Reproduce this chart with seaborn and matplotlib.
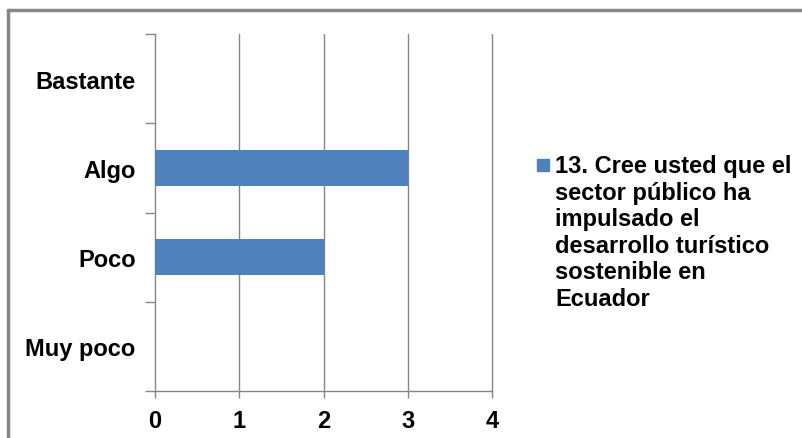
import matplotlib
import matplotlib.pyplot as plt
import seaborn as sns
import pandas as pd
from matplotlib.patches import Rectangle
from matplotlib.lines import Line2D

matplotlib.use('Agg')

# data
categories = ['Bastante', 'Algo', 'Poco', 'Muy poco']
values = [0, 3, 2, 0]
series_label = '13. Cree usted que el\nsector público ha\nimpulsado el\ndesarrollo turístico\nsostenible en\nEcuador'
x_ticks = [0, 1, 2, 3, 4]

bar_color = '#4F81BD'
grid_color = '#868686'

sns.set_style('white')
plt.rcParams['font.family'] = ['Liberation Sans', 'DejaVu Sans']
plt.rcParams['font.weight'] = 'bold'
plt.rcParams['text.color'] = 'black'
plt.rcParams['xtick.color'] = 'black'
plt.rcParams['ytick.color'] = 'black'

df = pd.DataFrame({'categoria': categories, 'valor': values})

fig = plt.figure(figsize=(8.03, 4.39), dpi=100)
ax = fig.add_axes([155 / 803, 1 - 392 / 439, (492 - 155) / 803, (392 - 35) / 439])

sns.barplot(data=df, x='valor', y='categoria', order=categories, orient='h',
            color=bar_color, saturation=1, width=0.4, linewidth=0, ax=ax, zorder=3)

ax.set_xlim(0, 4)
ax.set_ylim(3.5, -0.5)
ax.set_xticks(x_ticks)
ax.set_xlabel('')
ax.set_ylabel('')

# vertical gridlines (drawn as lines so the one at 4 isn't clipped)
for xv in x_ticks[1:]:
    ax.axvline(xv, color=grid_color, linewidth=1, zorder=0, clip_on=False)

for side in ['top', 'right']:
    ax.spines[side].set_visible(False)
for side in ['left', 'bottom']:
    ax.spines[side].set_color(grid_color)
    ax.spines[side].set_linewidth(1)

# y: labels at centers, tick marks at band edges
ax.set_yticks([i - 0.5 for i in range(len(categories) + 1)], minor=True)
ax.tick_params(axis='y', which='major', length=0, pad=14, labelsize=17, labelcolor='black')
ax.tick_params(axis='y', which='minor', length=7, width=1, color=grid_color, direction='out', left=True)
ax.tick_params(axis='x', which='major', length=5, width=1, color=grid_color, direction='out',
               bottom=True, pad=8, labelsize=17, labelcolor='black')
for lbl in ax.get_xticklabels() + ax.get_yticklabels():
    lbl.set_fontweight('bold')

# legend drawn by hand so the marker sits beside the first line
fig.add_artist(Rectangle((537 / 803, 1 - 172 / 439), 12 / 803, 12 / 439,
                         transform=fig.transFigure, color=bar_color))
fig.text(555 / 803, 1 - 155 / 439, series_label, ha='left', va='top', color='black',
         fontsize=17, fontweight='bold', linespacing=1.2)

# outer chart border
fig.add_artist(Line2D([8 / 803, 8 / 803], [0, 1 - 11 / 439], transform=fig.transFigure,
                      color=grid_color, linewidth=2.5))
fig.add_artist(Line2D([8 / 803, 1], [1 - 11 / 439, 1 - 11 / 439], transform=fig.transFigure,
                      color=grid_color, linewidth=2.5))

fig.savefig('out.png', dpi=100)
